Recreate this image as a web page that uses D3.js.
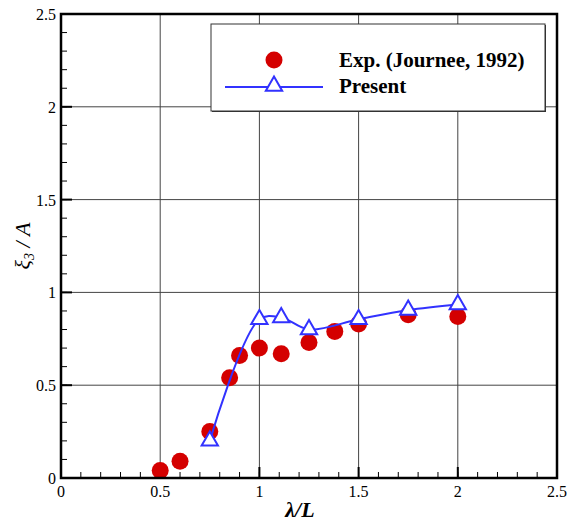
<!DOCTYPE html>
<html>
<head>
<meta charset="utf-8">
<script src="https://cdn.jsdelivr.net/npm/d3@7"></script>
<style>
  html, body { margin: 0; padding: 0; background: #fff; }
  svg { display: block; }
  text { font-family: "Liberation Serif", "Times New Roman", serif; }
</style>
</head>
<body>
<svg id="chart" width="568" height="523"></svg>
<script>
// ---- data ----
const expX = [0.5, 0.6, 0.75, 0.85, 0.9, 1.0, 1.11, 1.25, 1.38, 1.5, 1.75, 2.0];
const expY = [0.04, 0.09, 0.25, 0.54, 0.66, 0.70, 0.67, 0.73, 0.79, 0.83, 0.88, 0.87];
const presX = [0.75, 1.0, 1.11, 1.25, 1.5, 1.75, 2.0];
const presY = [0.20, 0.855, 0.865, 0.80, 0.855, 0.905, 0.935];
const xTicks = [0, 0.5, 1, 1.5, 2, 2.5];
const yTicks = [0, 0.5, 1, 1.5, 2, 2.5];
const xTickLabels = ["0", "0.5", "1", "1.5", "2", "2.5"];
const yTickLabels = ["0", "0.5", "1", "1.5", "2", "2.5"];
const seriesNames = ["Exp. (Journee, 1992)", "Present"];

// ---- layout ----
const svg = d3.select("#chart");
const L = 61, R = 557, T = 14, B = 478;
const x = d3.scaleLinear().domain([0, 2.5]).range([L, R]);
const y = d3.scaleLinear().domain([0, 2.5]).range([B, T]);

const red = "#d40000", blue = "#3232ff";

// grid
const g = svg.append("g");
g.selectAll(".gx").data(xTicks.slice(1, -1)).join("line")
  .attr("x1", d => x(d)).attr("x2", d => x(d)).attr("y1", T).attr("y2", B)
  .attr("stroke", "#444").attr("stroke-width", 1);
g.selectAll(".gy").data(yTicks.slice(1, -1)).join("line")
  .attr("y1", d => y(d)).attr("y2", d => y(d)).attr("x1", L).attr("x2", R)
  .attr("stroke", "#444").attr("stroke-width", 1);

// minor ticks (inward, bottom & left)
const minor = d3.range(0, 2.5001, 0.1).map(v => +v.toFixed(2));
g.selectAll(".mx").data(minor).join("line")
  .attr("x1", d => x(d)).attr("x2", d => x(d)).attr("y1", B).attr("y2", B - 6)
  .attr("stroke", "#000").attr("stroke-width", 1);
g.selectAll(".my").data(minor).join("line")
  .attr("y1", d => y(d)).attr("y2", d => y(d)).attr("x1", L).attr("x2", L + 6)
  .attr("stroke", "#000").attr("stroke-width", 1);
// major ticks
g.selectAll(".Mx").data(xTicks).join("line")
  .attr("x1", d => x(d)).attr("x2", d => x(d)).attr("y1", B).attr("y2", B - 11)
  .attr("stroke", "#000").attr("stroke-width", 2);
g.selectAll(".My").data(yTicks).join("line")
  .attr("y1", d => y(d)).attr("y2", d => y(d)).attr("x1", L).attr("x2", L + 11)
  .attr("stroke", "#000").attr("stroke-width", 2);

// tick labels
g.selectAll(".lx").data(xTicks).join("text")
  .attr("x", d => x(d)).attr("y", B + 19)
  .attr("text-anchor", "middle").attr("font-size", 16).text((d, i) => xTickLabels[i]);
g.selectAll(".ly").data(yTicks).join("text")
  .attr("x", L - 5).attr("y", d => y(d) + 6)
  .attr("text-anchor", "end").attr("font-size", 16).text((d, i) => yTickLabels[i]);

// data: experimental circles
svg.append("g").selectAll("circle").data(expX).join("circle")
  .attr("cx", d => x(d)).attr("cy", (d, i) => y(expY[i])).attr("r", 8.5)
  .attr("fill", red);

// present line
const pts = presX.map((d, i) => [x(d), y(presY[i])]);
svg.append("path").attr("d", d3.line().curve(d3.curveCatmullRom.alpha(0.5))(pts))
  .attr("fill", "none").attr("stroke", blue).attr("stroke-width", 2);
const tri = d3.symbol().type(d3.symbolTriangle).size(115);
svg.append("g").selectAll("path").data(pts).join("path")
  .attr("transform", d => `translate(${d[0]},${d[1]})`)
  .attr("d", tri).attr("fill", "#fff").attr("stroke", blue).attr("stroke-width", 2);

// frame
svg.append("rect").attr("x", L).attr("y", T).attr("width", R - L).attr("height", B - T)
  .attr("fill", "none").attr("stroke", "#000").attr("stroke-width", 2.5);

// legend
const lg = svg.append("g");
lg.append("rect").attr("x", 212).attr("y", 25).attr("width", 334).attr("height", 87)
  .attr("fill", "#333");
lg.append("rect").attr("x", 211).attr("y", 24).attr("width", 334).attr("height", 87)
  .attr("fill", "#fff").attr("stroke", "#333").attr("stroke-width", 1);
lg.append("circle").attr("cx", 274).attr("cy", 60).attr("r", 8.5).attr("fill", red);
lg.append("line").attr("x1", 225).attr("x2", 323).attr("y1", 87).attr("y2", 87)
  .attr("stroke", blue).attr("stroke-width", 2);
lg.append("path").attr("transform", "translate(274,86)").attr("d", tri)
  .attr("fill", "#fff").attr("stroke", blue).attr("stroke-width", 2);
lg.append("text").attr("x", 339).attr("y", 67).attr("font-size", 21).attr("font-weight", "bold")
  .text(seriesNames[0]);
lg.append("text").attr("x", 339).attr("y", 93).attr("font-size", 21).attr("font-weight", "bold")
  .text(seriesNames[1]);

// axis titles
svg.append("text").attr("x", 300).attr("y", 517).attr("text-anchor", "middle")
  .attr("font-size", 22).attr("font-weight", "bold").attr("font-style", "italic").text("λ/L");
const yl = svg.append("text").attr("transform", "translate(30,246) rotate(-90)")
  .attr("text-anchor", "middle").attr("font-size", 22).attr("font-style", "italic");
yl.append("tspan").text("ξ");
yl.append("tspan").attr("font-size", 14).attr("dy", 4).text("3");
yl.append("tspan").attr("dy", -4).text(" / A");
</script>
</body>
</html>
